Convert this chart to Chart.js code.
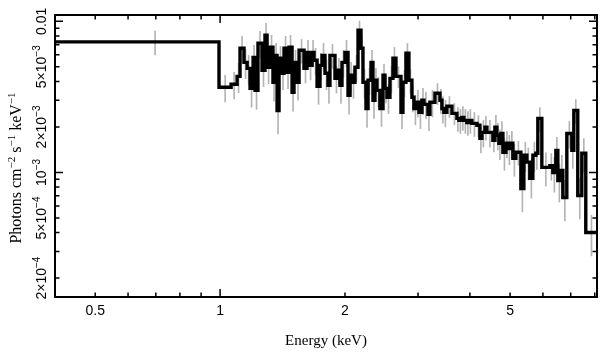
<!DOCTYPE html>
<html>
<head>
<meta charset="utf-8">
<script src="https://cdn.jsdelivr.net/npm/chart.js@4.4.1/dist/chart.umd.min.js"></script>
<style>
  html,body{margin:0;padding:0;background:#fff}
  #wrap{width:609px;height:361px}
</style>
</head>
<body>
<div id="wrap"><canvas id="spec" width="609" height="361"></canvas></div>
<script>
// bin edges (keV), one more than the flux values
const binEdges = [
  0.40, 0.994, 1.063, 1.099, 1.117, 1.142, 1.162, 1.181, 1.201, 1.214,
  1.234, 1.262, 1.283, 1.298, 1.320, 1.341, 1.357, 1.372, 1.387, 1.410,
  1.426, 1.450, 1.466, 1.491, 1.507, 1.532, 1.550, 1.593, 1.620, 1.638,
  1.666, 1.684, 1.713, 1.741, 1.761, 1.790, 1.820, 1.840, 1.892, 1.923,
  1.945, 1.967, 2.000, 2.034, 2.057, 2.080, 2.114, 2.150, 2.186, 2.210,
  2.247, 2.273, 2.311, 2.336, 2.362, 2.388, 2.428, 2.470, 2.497, 2.525,
  2.567, 2.610, 2.654, 2.729, 2.759, 2.805, 2.852, 2.900, 2.932, 2.982,
  3.015, 3.066, 3.100, 3.170, 3.205, 3.295, 3.388, 3.425, 3.463, 3.521,
  3.621, 3.722, 3.763, 3.826, 3.868, 3.934, 3.978, 4.045, 4.159, 4.229,
  4.276, 4.348, 4.397, 4.545, 4.596, 4.647, 4.699, 4.752, 4.805, 4.886,
  4.940, 5.022, 5.078, 5.163, 5.309, 5.398, 5.488, 5.579, 5.674, 5.769,
  5.833, 5.964, 6.234, 6.340, 6.446, 6.518, 6.628, 6.701, 6.851, 7.043,
  7.122, 7.280, 7.445, 7.611, 8.1
];
// photons cm^-2 s^-1 keV^-1
const flux = [
  7.31e-3, 3.66e-3, 3.83e-3, 4.32e-3, 6.63e-3, 5.35e-3, 4.88e-3, 3.60e-3, 5.77e-3, 3.49e-3,
  7.15e-3, 4.74e-3, 8.08e-3, 4.96e-3, 6.73e-3, 3.95e-3, 5.95e-3, 2.57e-3, 5.69e-3, 4.53e-3,
  6.63e-3, 4.60e-3, 6.73e-3, 3.39e-3, 5.35e-3, 3.95e-3, 6.43e-3, 4.88e-3, 6.23e-3, 5.11e-3,
  6.23e-3, 5.52e-3, 3.71e-3, 5.11e-3, 5.95e-3, 4.53e-3, 3.77e-3, 5.95e-3, 4.19e-3, 4.74e-3,
  3.77e-3, 5.35e-3, 6.23e-3, 3.24e-3, 4.39e-3, 3.95e-3, 4.96e-3, 8.72e-3, 6.63e-3, 3.95e-3,
  2.65e-3, 4.07e-3, 5.35e-3, 3.00e-3, 4.07e-3, 3.49e-3, 2.65e-3, 4.39e-3, 3.60e-3, 3.14e-3,
  4.19e-3, 5.69e-3, 4.32e-3, 2.50e-3, 3.95e-3, 6.14e-3, 4.07e-3, 3.14e-3, 2.65e-3, 2.91e-3,
  2.50e-3, 3.00e-3, 2.82e-3, 2.42e-3, 2.91e-3, 3.34e-3, 3.00e-3, 2.65e-3, 2.50e-3, 2.74e-3,
  2.46e-3, 2.28e-3, 2.21e-3, 2.31e-3, 2.21e-3, 2.14e-3, 2.21e-3, 2.11e-3, 2.05e-3, 1.68e-3,
  1.84e-3, 1.99e-3, 1.84e-3, 1.63e-3, 1.99e-3, 1.76e-3, 1.56e-3, 1.81e-3, 1.36e-3, 1.56e-3,
  1.44e-3, 1.56e-3, 1.24e-3, 1.36e-3, 7.83e-4, 1.30e-3, 1.17e-3, 9.13e-4, 1.30e-3, 1.34e-3,
  2.28e-3, 1.08e-3, 1.11e-3, 1.00e-3, 1.40e-3, 8.85e-4, 1.03e-3, 6.83e-4, 1.81e-3, 1.40e-3,
  2.57e-3, 7.04e-4, 1.34e-3, 4.01e-4
];
// 1-sigma error as a fraction of the flux
const relErr = [
  0.18,0.20,0.20,0.22,0.20,0.22,0.22,0.25,0.20,0.25,
  0.20,0.22,0.20,0.22,0.20,0.25,0.20,0.30,0.20,0.22,
  0.20,0.22,0.20,0.25,0.20,0.24,0.18,0.20,0.20,0.20,
  0.20,0.20,0.24,0.20,0.20,0.22,0.24,0.18,0.20,0.20,
  0.24,0.20,0.20,0.25,0.22,0.22,0.20,0.15,0.18,0.22,
  0.25,0.20,0.20,0.24,0.20,0.22,0.24,0.18,0.20,0.22,
  0.20,0.18,0.16,0.22,0.20,0.16,0.18,0.20,0.22,0.20,
  0.22,0.20,0.20,0.22,0.20,0.16,0.18,0.20,0.20,0.16,
  0.16,0.18,0.18,0.18,0.18,0.18,0.18,0.18,0.16,0.20,
  0.20,0.18,0.20,0.16,0.20,0.20,0.22,0.20,0.24,0.20,
  0.22,0.20,0.24,0.18,0.30,0.22,0.24,0.26,0.22,0.22,
  0.18,0.25,0.20,0.26,0.22,0.28,0.26,0.30,0.20,0.24,
  0.18,0.30,0.25,0.30
];

// axes
const xMin = 0.4, xMax = 8.1;
const yMin = 1.5e-4, yMax = 0.011;
const xTickVals = [0.4,0.5,0.6,0.7,0.8,0.9,1,2,3,4,5,6,7,8];
const xTickLabels = {0.5:'0.5', 1:'1', 2:'2', 5:'5'};
const yTickVals = [2e-4,3e-4,4e-4,5e-4,6e-4,7e-4,8e-4,9e-4,1e-3,2e-3,3e-3,4e-3,5e-3,6e-3,7e-3,8e-3,9e-3,1e-2];
const yTickLabels = [
  [2e-4, '2\u00d710', '\u22124'],
  [5e-4, '5\u00d710', '\u22124'],
  [1e-3, '10', '\u22123'],
  [2e-3, '2\u00d710', '\u22123'],
  [5e-3, '5\u00d710', '\u22123'],
  [1e-2, '0.01', '']
];

const SANS = '"Liberation Sans", Arial, sans-serif';
const SERIF = '"Liberation Serif", "Times New Roman", serif';

// step line: each bin value held from its lower edge, last value carried to the top edge
const stepPts = binEdges.map((e,i)=>({x:e, y:flux[Math.min(i, flux.length-1)]}));
// error bars at bin centres
const errPts = flux.map((v,i)=>({x:(binEdges[i]+binEdges[i+1])/2, y:[v*(1-relErr[i]), v*(1+relErr[i])]}));

function drawParts(ctx, parts, cx, cy, font, supFont, rise){
  let w = 0;
  parts.forEach(p=>{ ctx.font = p.sup?supFont:font; p.w = ctx.measureText(p.t).width; w += p.w; });
  let x = cx - w/2;
  parts.forEach(p=>{ ctx.font = p.sup?supFont:font; ctx.fillText(p.t, x, cy-(p.sup?rise:0)); x += p.w; });
}
const isDecade = v => Math.abs(Math.log10(v)-Math.round(Math.log10(v))) < 1e-9;

const framePlugin = {
  id:'frame',
  afterDatasetsDraw(chart){
    const {ctx, chartArea:a, scales:{x, y}} = chart;
    ctx.save();
    ctx.strokeStyle = '#000';
    ctx.lineWidth = 2;
    ctx.strokeRect(a.left, a.top, a.right-a.left, a.bottom-a.top);

    // inward ticks, longer on decades
    ctx.lineWidth = 1.5;
    ctx.beginPath();
    xTickVals.forEach(v=>{
      const px = x.getPixelForValue(v), len = isDecade(v) ? 8 : 4.5;
      ctx.moveTo(px, a.bottom); ctx.lineTo(px, a.bottom-len);
      ctx.moveTo(px, a.top); ctx.lineTo(px, a.top+len);
    });
    yTickVals.forEach(v=>{
      const py = y.getPixelForValue(v), len = isDecade(v) ? 8 : 4.5;
      ctx.moveTo(a.left, py); ctx.lineTo(a.left+len, py);
      ctx.moveTo(a.right, py); ctx.lineTo(a.right-len, py);
    });
    ctx.stroke();

    // rotated y tick labels
    ctx.fillStyle = '#000';
    ctx.textBaseline = 'middle';
    ctx.textAlign = 'left';
    yTickLabels.forEach(([v, base, exp])=>{
      ctx.save();
      ctx.translate(42, y.getPixelForValue(v));
      ctx.rotate(-Math.PI/2);
      const parts = [{t:base}];
      if (exp) parts.push({t:exp, sup:true});
      drawParts(ctx, parts, 0, 0, '14px '+SANS, '10px '+SANS, 4.5);
      ctx.restore();
    });

    // y title
    ctx.save();
    ctx.translate(17, 168);
    ctx.rotate(-Math.PI/2);
    drawParts(ctx, [
      {t:'Photons cm'}, {t:'\u22122', sup:true},
      {t:' s'}, {t:'\u22121', sup:true},
      {t:' keV'}, {t:'\u22121', sup:true}
    ], 0, 0, '16px '+SERIF, '11px '+SERIF, 4.5);
    ctx.restore();
    ctx.restore();
  }
};

new Chart(document.getElementById('spec'), {
  type:'line',
  data:{
    datasets:[
      {
        type:'line',
        data: stepPts,
        stepped: true,
        borderColor:'#000',
        borderWidth: 3.4,
        pointRadius: 0,
        fill: false,
        order: 0
      },
      {
        type:'bar',
        data: errPts,
        backgroundColor:'#b4b4b4',
        borderWidth: 0,
        barThickness: 1,
        order: 1
      }
    ]
  },
  options:{
    responsive:false, animation:false, events:[],
    layout:{padding:{top:15, right:12, left:0, bottom:0}},
    plugins:{legend:{display:false}, tooltip:{enabled:false}},
    scales:{
      x:{
        type:'logarithmic', min:xMin, max:xMax, offset:false,
        grid:{display:false, drawTicks:false},
        border:{display:false},
        afterBuildTicks: s => { s.ticks = xTickVals.map(v=>({value:v})); },
        afterFit: s => { s.height = 64; },
        ticks:{
          autoSkip:false, maxRotation:0, minRotation:0, padding:6,
          color:'#000', font:{family:SANS, size:14},
          callback: v => xTickLabels[v] || ''
        },
        title:{display:true, text:'Energy (keV)', color:'#000', font:{family:SERIF, size:15}, padding:{top:0, bottom:11}}
      },
      y:{
        type:'logarithmic', min:yMin, max:yMax,
        grid:{display:false, drawTicks:false},
        border:{display:false},
        ticks:{display:false},
        afterFit: s => { s.width = 55; }
      }
    }
  },
  plugins:[framePlugin]
});
</script>
</body>
</html>
